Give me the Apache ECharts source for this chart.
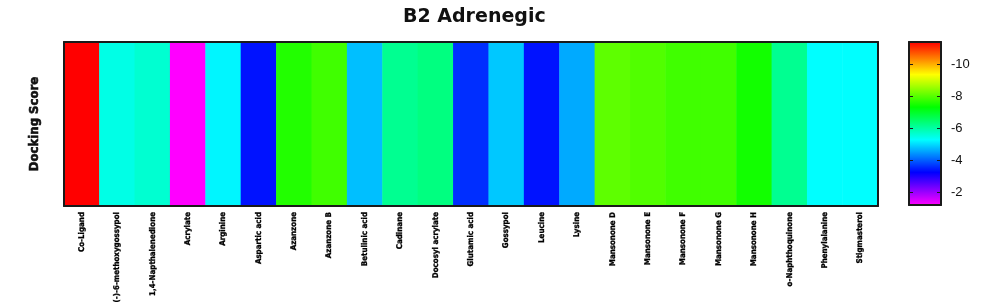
<!DOCTYPE html>
<html>
<head>
<meta charset="utf-8">
<script src="https://cdn.jsdelivr.net/npm/echarts@6/dist/echarts.min.js"></script>
<style>
html,body{margin:0;padding:0;background:#fff;}
#chart{width:981px;height:308px;}
</style>
</head>
<body>
<div id="chart"></div>
<script>
const categories = ['Co-Ligand','(-)-6-methoxygossypol','1,4-Napthalenedione','Acrylate','Arginine','Aspartic acid','Azanzone','Azanzone B','Betulinic acid','Cadinane','Docosyl acrylate','Glutamic acid','Gossypol','Leucine','Lysine','Mansonone D','Mansonone E','Mansonone F','Mansonone G','Mansonone H','o-Naphthoquinone','Phenylalanine','Stigmasterol'];
const dockingScores = [-11.4,-5.48,-5.65,-1.2,-5.21,-3.38,-7.59,-7.83,-4.77,-6.16,-6.3,-3.61,-4.84,-3.38,-4.6,-8.07,-7.97,-7.83,-7.83,-7.46,-6.16,-5.28,-5.28];
const colorbarTicks = [-10,-8,-6,-4,-2];
const scaleMin = -11.4;
const scaleMax = -1.2;
const rowLabels = [''];
const colorStops = ['#ff0000','#ffff00','#00ff00','#00ffff','#0000ff','#ff00ff'];

const heatData = dockingScores.map((v,i)=>[i,0,v]);
const narrow = "'Liberation Sans Narrow','DejaVu Sans Condensed',Arial,sans-serif";
const borderLine = {show:true,onZero:false,lineStyle:{color:'#1a1a1a',width:2}};

const chart = echarts.init(document.getElementById('chart'));
chart.setOption({
  animation:false,
  backgroundColor:'#fff',
  title:{
    text:'B2 Adrenegic',
    left:398, top:3,
    textStyle:{fontFamily:"'DejaVu Sans',sans-serif",fontWeight:'bold',fontSize:19,color:'#111'}
  },
  grid:[
    {left:64, top:42, width:814, height:164, outerBoundsMode:'none', containLabel:false},
    {left:909, top:42, width:32, height:163, outerBoundsMode:'none', containLabel:false}
  ],
  xAxis:[
    {type:'category', gridIndex:0, data:categories, position:'bottom', z:10,
     axisLine:borderLine, axisTick:{show:false}, splitLine:{show:false},
     axisLabel:{rotate:90, interval:0, margin:6, color:'#000', fontFamily:narrow, fontWeight:'bold', fontSize:7.9,
                textBorderColor:'#000', textBorderWidth:0.3}},
    {type:'category', gridIndex:0, data:categories, position:'top', z:10,
     axisLine:borderLine, axisTick:{show:false}, axisLabel:{show:false}, splitLine:{show:false}},
    {type:'value', gridIndex:1, min:0, max:1, position:'bottom', z:10,
     axisLine:borderLine, axisTick:{show:false}, axisLabel:{show:false}, splitLine:{show:false}},
    {type:'value', gridIndex:1, min:0, max:1, position:'top', z:10,
     axisLine:borderLine, axisTick:{show:false}, axisLabel:{show:false}, splitLine:{show:false}}
  ],
  yAxis:[
    {type:'category', gridIndex:0, data:rowLabels, position:'left', z:10,
     name:'Docking Score', nameLocation:'middle', nameRotate:90, nameGap:23,
     nameTextStyle:{fontFamily:narrow, fontWeight:'bold', fontSize:13, color:'#111', textBorderColor:'#111', textBorderWidth:0.6},
     axisLine:borderLine, axisTick:{show:false}, axisLabel:{show:false}, splitLine:{show:false}},
    {type:'category', gridIndex:0, data:rowLabels, position:'right', z:10,
     axisLine:borderLine, axisTick:{show:false}, axisLabel:{show:false}, splitLine:{show:false}},
    {type:'value', gridIndex:1, min:scaleMin, max:scaleMax, inverse:true, position:'right', z:10,
     axisLine:borderLine,
     axisTick:{show:true, inside:true, length:4, customValues:colorbarTicks, lineStyle:{color:'#1a1a1a',width:1}},
     axisLabel:{show:true, margin:10, customValues:colorbarTicks, color:'#111', fontFamily:"'Liberation Sans',Arial,sans-serif", fontSize:13},
     splitLine:{show:false}},
    {type:'value', gridIndex:1, min:scaleMin, max:scaleMax, inverse:true, position:'left', z:10,
     axisLine:borderLine,
     axisTick:{show:true, inside:true, length:4, customValues:colorbarTicks, lineStyle:{color:'#1a1a1a',width:1}},
     axisLabel:{show:false}, splitLine:{show:false}}
  ],
  visualMap:{
    type:'continuous', min:scaleMin, max:scaleMax, seriesIndex:0, z:1,
    calculable:false, inverse:true, orient:'vertical',
    left:909, top:42, itemWidth:32, itemHeight:163, padding:0,
    inRange:{color:colorStops},
    textStyle:{fontSize:0}
  },
  series:[{
    type:'heatmap', xAxisIndex:0, yAxisIndex:0, data:heatData,
    itemStyle:{borderWidth:0},
    emphasis:{disabled:true},
    label:{show:false}
  }]
});
</script>
</body>
</html>
